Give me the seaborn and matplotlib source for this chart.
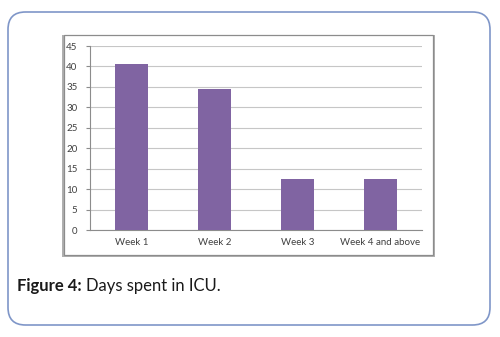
import matplotlib
matplotlib.use("Agg")
import matplotlib.pyplot as plt
from matplotlib.patches import FancyBboxPatch, Rectangle
import seaborn as sns
import pandas as pd

categories = ["Week 1", "Week 2", "Week 3", "Week 4 and above"]
values = [40.5, 34.4, 12.4, 12.4]
y_ticks = [0, 5, 10, 15, 20, 25, 30, 35, 40, 45]

df = pd.DataFrame({"period": categories, "patients": values})

sns.set_style("white")
plt.rcParams["font.family"] = ["Lato", "DejaVu Sans"]

W, H = 500, 337
fig = plt.figure(figsize=(W / 100, H / 100), dpi=100)

def fx(px):
    return px / W

def fy(py):
    return 1 - py / H

# outer rounded panel
panel = FancyBboxPatch((fx(8), fy(325)), fx(490) - fx(8), fy(12) - fy(325),
                       boxstyle="round,pad=0,rounding_size=0.035",
                       transform=fig.transFigure, facecolor="white",
                       edgecolor="#7f96c8", linewidth=1.2, zorder=0,
                       mutation_aspect=W / H)
fig.patches.append(panel)

# chart frame with a soft shadow
shadow = Rectangle((fx(62), fy(257)), fx(435) - fx(62), fy(35) - fy(257),
                   transform=fig.transFigure, facecolor="#b0b0b0",
                   edgecolor="none", zorder=1)
frame = Rectangle((fx(64), fy(255)), fx(433) - fx(64), fy(34.5) - fy(255),
                  transform=fig.transFigure, facecolor="white",
                  edgecolor="#8c8c8c", linewidth=0.9, zorder=2)
fig.patches.extend([shadow, frame])

ax = fig.add_axes([fx(90), fy(230), fx(422) - fx(90), fy(46) - fy(230)])
ax.set_zorder(3)
ax.patch.set_alpha(0)

sns.barplot(data=df, x="period", y="patients", color="#8064A2",
            saturation=1, width=0.4, linewidth=0, ax=ax, zorder=3)

ax.set_ylim(0, 45)
ax.set_xlim(-0.5, 3.5)
ax.set_yticks(y_ticks)
ax.yaxis.grid(True, color="#c6c6c6", linewidth=0.8)
ax.set_axisbelow(True)
ax.set_xlabel("")
ax.set_ylabel("")

for s in ["top", "right"]:
    ax.spines[s].set_visible(False)
for s in ["left", "bottom"]:
    ax.spines[s].set_color("#8c8c8c")
    ax.spines[s].set_linewidth(0.8)

ax.set_xticks([-0.5, 0.5, 1.5, 2.5, 3.5], minor=True)
ax.tick_params(axis="x", which="major", length=0, pad=6,
               labelsize=7, labelcolor="#404040")
ax.tick_params(axis="x", which="minor", length=3, color="#8c8c8c", width=0.8)
ax.tick_params(axis="y", length=3, color="#8c8c8c", width=0.8,
               labelsize=7, labelcolor="#404040", pad=6, left=True)

# caption: bold label followed by plain text
renderer = fig.canvas.get_renderer()
lead = fig.text(fx(17), fy(286), "Figure 4:", fontsize=12, fontweight="bold",
                color="#1a1a1a", va="center", ha="left")
bb = lead.get_window_extent(renderer=renderer)
fig.text(bb.x1 / W + fx(4), fy(286), "Days spent in ICU.", fontsize=12,
         color="#1a1a1a", va="center", ha="left")

fig.savefig("out.png", dpi=100)
